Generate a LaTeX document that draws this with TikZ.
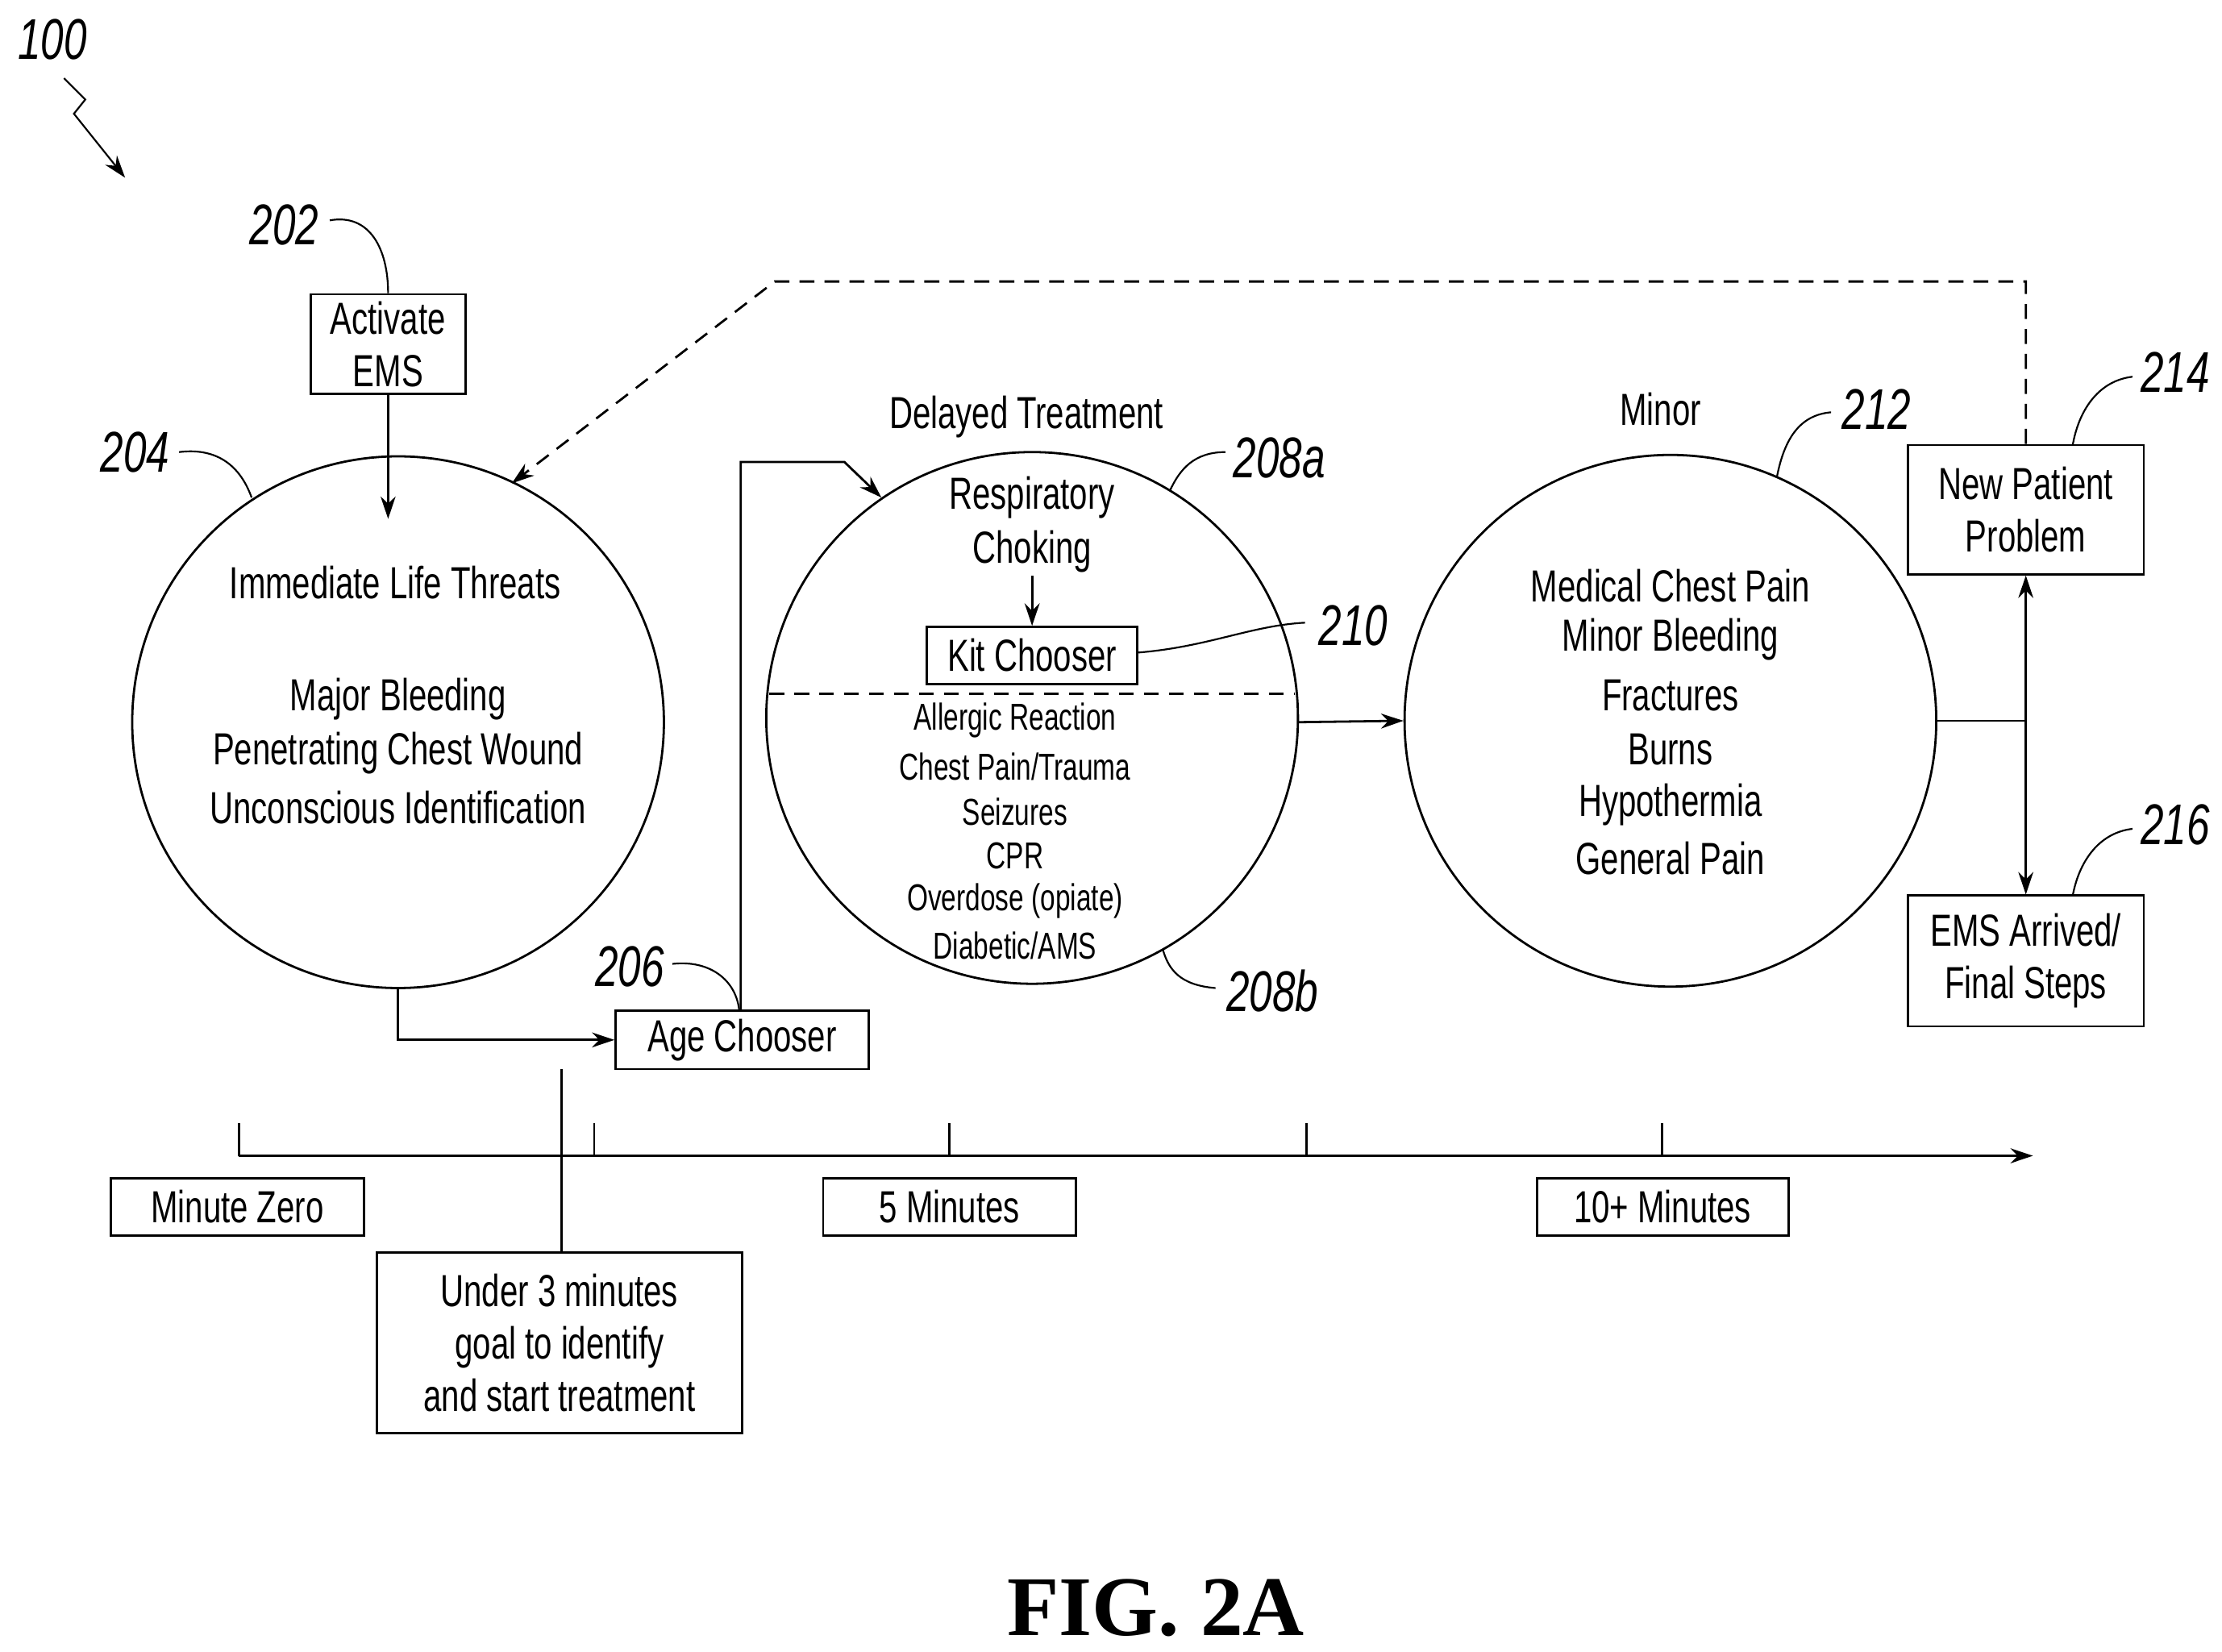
\documentclass[tikz,border=0pt]{standalone}
\usepackage{fontspec}
\setmainfont{Liberation Sans}[FakeStretch=0.72]
\newfontfamily\figfont{Liberation Serif}
\usetikzlibrary{arrows.meta}
\begin{document}
\begin{tikzpicture}[x=0.02cm,y=-0.02cm,line width=0.9pt,
  txt/.style={font=\fontsize{18}{21}\selectfont,inner sep=0pt},
  sm/.style={font=\fontsize{15}{18}\selectfont,inner sep=0pt},
  lab/.style={font=\fontsize{23}{26}\selectfont\itshape,inner sep=0pt},
  box/.style={draw,font=\fontsize{18}{21}\selectfont,align=center,inner sep=0pt},
  arr/.style={-{Stealth[length=9pt,width=6pt]}},
  dsh/.style={dash pattern=on 6pt off 4pt},
  lead/.style={line width=0.7pt}]
\useasboundingbox (0,0) rectangle (1563,1162);
% label 100
\node[lab] (l100) at (37,28) {100};
\draw[lead,arr] (45,55) -- (60,70) -- (52,80) -- (88,125);
% 202
\node[box,minimum width=109*0.02cm,minimum height=70*0.02cm] (ems) at (273,242) {Activate\\EMS};
\node[lab] (l202) at (200,158) {202};
\draw[lead] (232,155) .. controls (260,150) and (273,175) .. (ems.north);
% circle 204
\node[draw,circle,minimum size=374*0.02cm,inner sep=0pt] (c204) at (280,508) {};
\draw[arr] (ems.south) -- (273,365);
\node[lab] (l204) at (95,318) {204};
\draw[lead] (126,318) .. controls (150,315) and (168,325) .. (177,350);
\node[txt] (t1) at (278,410) {Immediate Life Threats};
\node[txt] (t2) at (280,492) {Major Bleeding};
\node[txt] (t3) at (280,530) {Penetrating Chest Wound};
\node[txt] (t4) at (280,568) {Unconscious Identification};
% age chooser
\node[box,minimum width=178*0.02cm,minimum height=41*0.02cm] (age) at (522,731.5) {Age Chooser};
\node[lab] (l206) at (443,680) {206};
\coordinate (a1) at (280,695);
\draw[arr] (a1) |- (age.west);
\draw[lead] (473,678) .. controls (500,675) and (518,690) .. (520,711);
% circle 208
\node[draw,circle,minimum size=374*0.02cm,inner sep=0pt] (c208) at (726,505) {};
\draw[dsh,lead] (541,488) -- (911,488);
\node[txt] (dt) at (722,293) {Delayed Treatment};
\coordinate (p1) at (521,711);\coordinate (p2) at (521,325);\coordinate (p3) at (594,325);
\draw[arr] (p1) -- (p2) -- (p3) -- (620,350);
\node[txt] (r1) at (726,350) {Respiratory};
\node[txt] (r2) at (726,388) {Choking};
\node[box,minimum width=148*0.02cm,minimum height=40*0.02cm] (kit) at (726,461) {Kit Chooser};
\draw[arr] (726,405) -- (kit.north);
\node[lab] (l210) at (952,440) {210};
\draw[lead] (kit.east) ++(0,-2) .. controls (850,455) and (880,440) .. (918,438);
\node[sm] at (714,507) {Allergic Reaction};
\node[sm] at (714,539) {Chest Pain/Trauma};
\node[sm] at (714,571) {Seizures};
\node[sm] at (714,602) {CPR};
\node[sm] at (714,634) {Overdose (opiate)};
\node[sm] at (714,665) {Diabetic/AMS};
\node[lab] (l208a) at (900,322) {208a};
\draw[lead] (862,318) .. controls (840,318) and (830,330) .. (823,345);
\node[lab] (l208b) at (895,697) {208b};
\draw[lead] (855,695) .. controls (830,693) and (822,682) .. (818,668);
% circle 212
\node[draw,circle,minimum size=374*0.02cm,inner sep=0pt] (c212) at (1175,507) {};
\draw[arr] (913,508) -- (c212.west);
\node[txt] at (1168,288) {Minor};
\node[txt] at (1175,412) {Medical Chest Pain};
\node[txt] at (1175,450) {Minor Bleeding};
\node[txt] at (1175,489) {Fractures};
\node[txt] at (1175,527) {Burns};
\node[txt] at (1175,566) {Hypothermia};
\node[txt] at (1175,604) {General Pain};
\node[lab] (l212) at (1320,288) {212};
\draw[lead] (1288,290) .. controls (1265,292) and (1255,310) .. (1250,335);
% 214 / 216
\node[box,minimum width=166*0.02cm,minimum height=91*0.02cm] (b214) at (1425,358.5) {New Patient\\Problem};
\node[box,minimum width=166*0.02cm,minimum height=92*0.02cm] (b216) at (1425,676) {EMS Arrived/\\Final Steps};
\coordinate (j) at (1425,507);
\draw (c212.east) -- (j);
\draw[arr] (j) -- (b214.south);
\draw[arr] (j) -- (b216.north);
\node[lab] (l214) at (1530,262) {214};
\draw[lead] (1500,265) .. controls (1475,268) and (1462,290) .. (1458,313);
\node[lab] (l216) at (1530,580) {216};
\draw[lead] (1500,583) .. controls (1475,586) and (1462,608) .. (1458,630);
% dashed feedback
\draw[dsh,arr] (b214.north) -- (1425,198) -- (545,198) -- (360,340);
% timeline
\draw[arr] (168,813) -- (1430,813);
\foreach \x in {168,418,668,919,1169} \draw (\x,790) -- (\x,813);
\node[box,minimum width=178*0.02cm,minimum height=40*0.02cm] (m0) at (167,849) {Minute Zero};
\node[box,minimum width=178*0.02cm,minimum height=40*0.02cm] (m5) at (668,849) {5 Minutes};
\node[box,minimum width=177*0.02cm,minimum height=40*0.02cm] (m10) at (1169.5,849) {10+ Minutes};
\node[box,minimum width=257*0.02cm,minimum height=127*0.02cm] (u3) at (393.5,944.5) {Under 3 minutes\\goal to identify\\and start treatment};
\draw (395,752) -- (395,881);
\node[font=\figfont\bfseries\fontsize{34}{38}\selectfont,inner sep=0pt] (fig) at (813,1131) {FIG. 2A};
\end{tikzpicture}
\end{document}
